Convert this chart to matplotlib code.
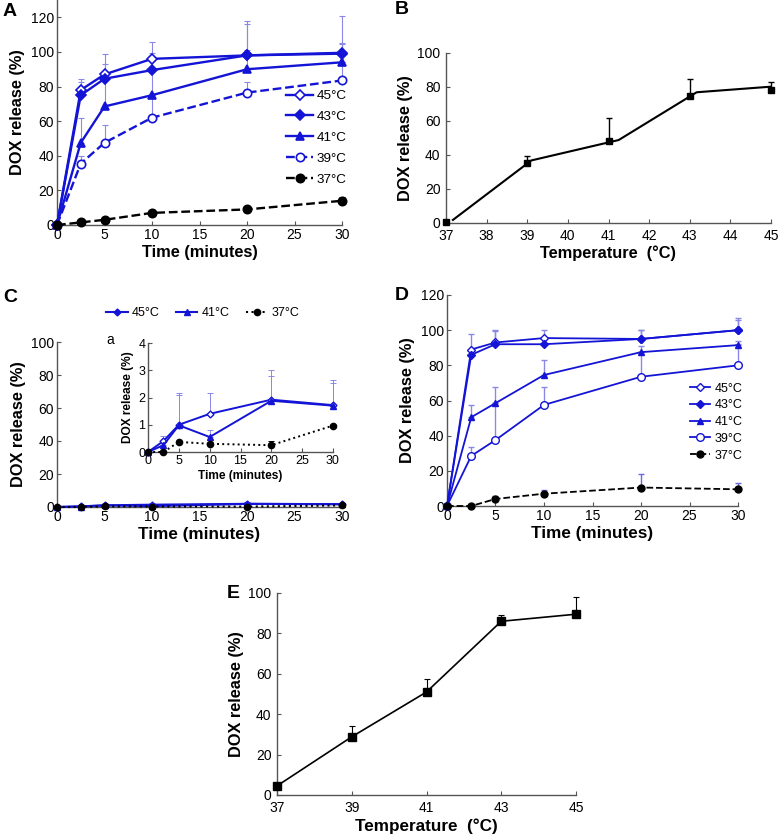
import matplotlib
matplotlib.use("Agg")
import matplotlib.pyplot as plt
import numpy as np

plt.rcParams['font.family'] = ['Liberation Sans', 'DejaVu Sans']

# ---------------- data ----------------
time = [0, 2.5, 5, 10, 20, 30]

# Panel A
a_labels = ['45°C', '43°C', '41°C', '39°C', '37°C']
a_45 = [0, 78, 87, 96, 98, 99]
a_45_err = [0, 6.6, 12, 10, 20, 21.6]
a_43 = [0, 75, 84.5, 89.5, 98, 99.5]
a_43_err = [0, 7.7, 8.5, 10, 18, 5]
a_41 = [0, 47.5, 68.5, 75, 90, 94]
a_41_err = [0, 14.5, 16, 14, 11, 11]
a_39 = [0, 35.5, 47.5, 62, 76.5, 83.5]
a_39_err = [0, 4.3, 10, 13, 6, 10.5]
a_37 = [0, 1.5, 3, 7, 9, 14]
a_37_err = [0, 0, 0, 0, 0, 2]

# Panel B
temps = [37, 39, 41, 43, 45]
b_vals = [0.5, 35.5, 48, 75, 78.5]
b_err = [0, 4, 14, 9.5, 4.5]
b_fit_x = [37.17, 39.1, 41.25, 43.17, 45]
b_fit_y = [1.8, 36.8, 48.8, 76.9, 80.2]

# Panel C (inset data; main panel shows the same data)
c_labels = ['45°C', '41°C', '37°C']
c_45 = [0, 0.4, 1.0, 1.4, 1.92, 1.72]
c_45_err = [0, 0.2, 1.15, 0.75, 1.1, 0.93]
c_41 = [0, 0.25, 0.98, 0.55, 1.88, 1.7]
c_41_err = [0, 0.1, 1.12, 0.25, 0.92, 0.85]
c_37 = [0, 0, 0.37, 0.3, 0.25, 0.97]
c_37_err = [0, 0, 0, 0, 0.17, 0]

# Panel D
d_45 = [0, 89, 93, 95.5, 95, 100]
d_45_err = [0, 9, 7, 4.5, 5, 5.5]
d_43 = [0, 86, 92, 92, 95, 100]
d_43_err = [0, 0, 7.5, 0, 5, 7]
d_41 = [0, 50.5, 58.5, 74.5, 87.5, 91.5]
d_41_err = [0, 7, 9, 8.5, 3.5, 2.5]
d_39 = [0, 28.5, 37.5, 57.5, 73.5, 80]
d_39_err = [0, 5, 21, 10, 14, 12]
d_37 = [0, 0, 4, 7, 10.5, 9.5]
d_37_err = [0, 1, 1.5, 2, 7.5, 3.5]

# Panel E
e_vals = [4.5, 28.8, 51, 86, 89.5]
e_err = [1.5, 5.5, 6.5, 3, 8.5]

# ---------------- style ----------------
BLUE = '#1414d6'
EBLUE = '#8a8ae6'
SPINE = '#555555'
TICK_FS = 10
LAB_FS = 11.8

W, H = 780, 836
fig = plt.figure(figsize=(W / 100, H / 100), dpi=100)


def ax_at(l, t, r, b):
    return fig.add_axes([l / W, 1 - b / H, (r - l) / W, (b - t) / H])


def style(ax, fs=TICK_FS):
    for s in ['top', 'right']:
        ax.spines[s].set_visible(False)
    for s in ['left', 'bottom']:
        ax.spines[s].set_color(SPINE)
        ax.spines[s].set_linewidth(1.0)
    ax.tick_params(direction='in', length=3, width=0.8, color=SPINE,
                   labelsize=fs, pad=2)


def up_err(ax, x, y, e, color, lw=0.8, cap=2):
    c = ax.errorbar(x, y, yerr=[np.zeros(len(e)), e], fmt='none', ecolor=color,
                    elinewidth=lw, capsize=cap, capthick=lw, zorder=1)
    for art in c.get_children():
        art.set_clip_on(False)


def line(ax, x, y, **kw):
    ln, = ax.plot(x, y, clip_on=False, **kw)
    return ln


# ---------------- Panel A ----------------
ax = ax_at(57, 0, 342, 225)
style(ax)
series_a = [
    (a_45, a_45_err, dict(color=BLUE, ls='-', marker='D', mfc='white', ms=4.8)),
    (a_43, a_43_err, dict(color=BLUE, ls='-', marker='D', mfc=BLUE, ms=4.8)),
    (a_41, a_41_err, dict(color=BLUE, ls='-', marker='^', mfc=BLUE, ms=6)),
    (a_39, a_39_err, dict(color=BLUE, ls='--', marker='o', mfc='white', ms=6)),
    (a_37, a_37_err, dict(color='black', ls='--', marker='o', mfc='black', ms=6)),
]
for (v, e, kw), lab in zip(series_a, a_labels):
    up_err(ax, time, v, e, 'black' if kw['color'] == 'black' else EBLUE)
for (v, e, kw), lab in zip(series_a, a_labels):
    line(ax, time, v, lw=1.7, mew=1.2, mec=kw['color'], label=lab, zorder=3, **kw)
ax.set_xlim(0, 30)
ax.set_ylim(0, 130)
ax.set_xticks(range(0, 31, 5))
ax.set_yticks(range(0, 121, 20))
ax.set_xlabel('Time (minutes)', fontsize=LAB_FS, fontweight='bold', labelpad=2)
ax.set_ylabel('DOX release (%)', fontsize=LAB_FS, fontweight='bold', labelpad=4)
ax.legend(loc='upper left', bbox_to_anchor=(0.805, 0.60), frameon=False,
          fontsize=9.7, handlelength=1.95, handletextpad=0.3, labelspacing=0.62,
          borderpad=0, borderaxespad=0)
fig.text(3 / W, 1 - 12 / H, 'A', fontsize=14, fontweight='bold', va='center')

# ---------------- Panel B ----------------
ax = ax_at(446, 53, 771, 223)
style(ax)
up_err(ax, temps, b_vals, b_err, 'black', lw=1.0, cap=2.5)
line(ax, temps, b_vals, ls='none', marker='s', color='black', ms=5, zorder=3)
line(ax, b_fit_x, b_fit_y, color='black', lw=1.5, zorder=2)
ax.set_xlim(37, 45)
ax.set_ylim(0, 100)
ax.set_xticks(range(37, 46))
ax.set_yticks(range(0, 101, 20))
ax.tick_params(axis='x', pad=4)
ax.tick_params(axis='y', pad=4)
ax.set_xlabel('Temperature  (°C)', fontsize=LAB_FS, fontweight='bold', labelpad=2)
ax.set_ylabel('DOX release (%)', fontsize=LAB_FS, fontweight='bold', labelpad=3)
fig.text(395 / W, 1 - 10 / H, 'B', fontsize=14, fontweight='bold', va='center')

# ---------------- Panel C ----------------
series_c = [
    (c_45, c_45_err, dict(color=BLUE, ls='-', marker='D', mfc='white', ms=3.5)),
    (c_41, c_41_err, dict(color=BLUE, ls='-', marker='^', mfc=BLUE, ms=4.5)),
    (c_37, c_37_err, dict(color='black', ls=':', marker='o', mfc='black', ms=4.5)),
]
ax = ax_at(57, 342, 342, 507)
style(ax)
handles = []
for (v, e, kw), lab in zip(series_c, c_labels):
    up_err(ax, time, v, e, 'black' if kw['color'] == 'black' else EBLUE, lw=0.7)
for (v, e, kw), lab in zip(series_c, c_labels):
    line(ax, time, v, lw=1.5, mew=1.0, mec=kw['color'], zorder=3, **kw)
    kwl = dict(kw)
    if lab == '45°C':
        kwl['mfc'] = BLUE
    h, = ax.plot([], [], lw=1.5, mew=1.0, mec=kw['color'], label=lab, **kwl)
    handles.append(h)
ax.set_xlim(0, 30)
ax.set_ylim(0, 100)
ax.set_xticks(range(0, 31, 5))
ax.set_yticks(range(0, 101, 20))
ax.set_xlabel('Time (minutes)', fontsize=LAB_FS + 0.5, fontweight='bold', labelpad=2)
ax.set_ylabel('DOX release (%)', fontsize=LAB_FS, fontweight='bold', labelpad=4)
fig.legend(handles=handles, loc='center', bbox_to_anchor=(203 / W, 1 - 313 / H),
           ncol=3, frameon=False, fontsize=9, handlelength=1.7,
           handletextpad=0.35, columnspacing=1.3, borderpad=0)
fig.text(3 / W, 1 - 297 / H, 'C', fontsize=14, fontweight='bold', va='center')

axi = ax_at(148, 343, 333, 452)
style(axi, fs=9)
for (v, e, kw), lab in zip(series_c, c_labels):
    up_err(axi, time, v, e, 'black' if kw['color'] == 'black' else EBLUE, lw=0.7)
for (v, e, kw), lab in zip(series_c, c_labels):
    line(axi, time, v, lw=1.4, mew=1.0, mec=kw['color'], zorder=3, **kw)
axi.set_xlim(0, 30)
axi.set_ylim(0, 4)
axi.set_xticks(range(0, 31, 5))
axi.set_yticks(range(0, 5))
axi.set_xlabel('Time (minutes)', fontsize=8.6, fontweight='bold', labelpad=2)
axi.set_ylabel('DOX release (%)', fontsize=8.6, fontweight='bold', labelpad=3)
fig.text(110 / W, 1 - 340 / H, 'a', fontsize=10, va='center', ha='center')

# ---------------- Panel D ----------------
ax = ax_at(447, 295, 738, 506)
style(ax)
series_d = [
    (d_45, d_45_err, dict(color=BLUE, ls='-', marker='D', mfc='white', ms=3.8)),
    (d_43, d_43_err, dict(color=BLUE, ls='-', marker='D', mfc=BLUE, ms=3.8)),
    (d_41, d_41_err, dict(color=BLUE, ls='-', marker='^', mfc=BLUE, ms=4.5)),
    (d_39, d_39_err, dict(color=BLUE, ls='-', marker='o', mfc='white', ms=5.5)),
    (d_37, d_37_err, dict(color='black', ls='--', marker='o', mfc='black', ms=5)),
]
for (v, e, kw), lab in zip(series_d, a_labels):
    up_err(ax, time, v, e, EBLUE if lab != '37°C' else '#6a6ae0', lw=1.0)
for (v, e, kw), lab in zip(series_d, a_labels):
    line(ax, time, v, lw=1.3, mew=1.0, mec=kw['color'], label=lab, zorder=3, **kw)
ax.set_xlim(0, 30)
ax.set_ylim(0, 120)
ax.set_xticks(range(0, 31, 5))
ax.set_yticks(range(0, 121, 20))
ax.set_xlabel('Time (minutes)', fontsize=LAB_FS + 0.5, fontweight='bold', labelpad=2)
ax.set_ylabel('DOX release (%)', fontsize=LAB_FS, fontweight='bold', labelpad=4)
ax.legend(loc='upper left', bbox_to_anchor=(0.835, 0.585), frameon=False,
          fontsize=9, handlelength=1.6, handletextpad=0.35, labelspacing=0.38,
          borderpad=0, borderaxespad=0)
fig.text(395 / W, 1 - 295 / H, 'D', fontsize=14, fontweight='bold', va='center')

# ---------------- Panel E ----------------
ax = ax_at(277, 593, 576, 795)
style(ax)
up_err(ax, temps, e_vals, e_err, 'black', lw=0.8, cap=2)
line(ax, temps, e_vals, color='black', lw=1.2, marker='s', ms=5.5, zorder=3)
ax.set_xlim(37, 45)
ax.set_ylim(0, 100)
ax.set_xticks(temps)
ax.set_yticks(range(0, 101, 20))
ax.tick_params(axis='x', pad=4)
ax.tick_params(axis='y', pad=4)
ax.set_xlabel('Temperature  (°C)', fontsize=LAB_FS + 0.5, fontweight='bold', labelpad=3)
ax.set_ylabel('DOX release (%)', fontsize=LAB_FS, fontweight='bold', labelpad=3)
fig.text(227 / W, 1 - 593 / H, 'E', fontsize=14, fontweight='bold', va='center')

fig.savefig('out.png', dpi=100)
